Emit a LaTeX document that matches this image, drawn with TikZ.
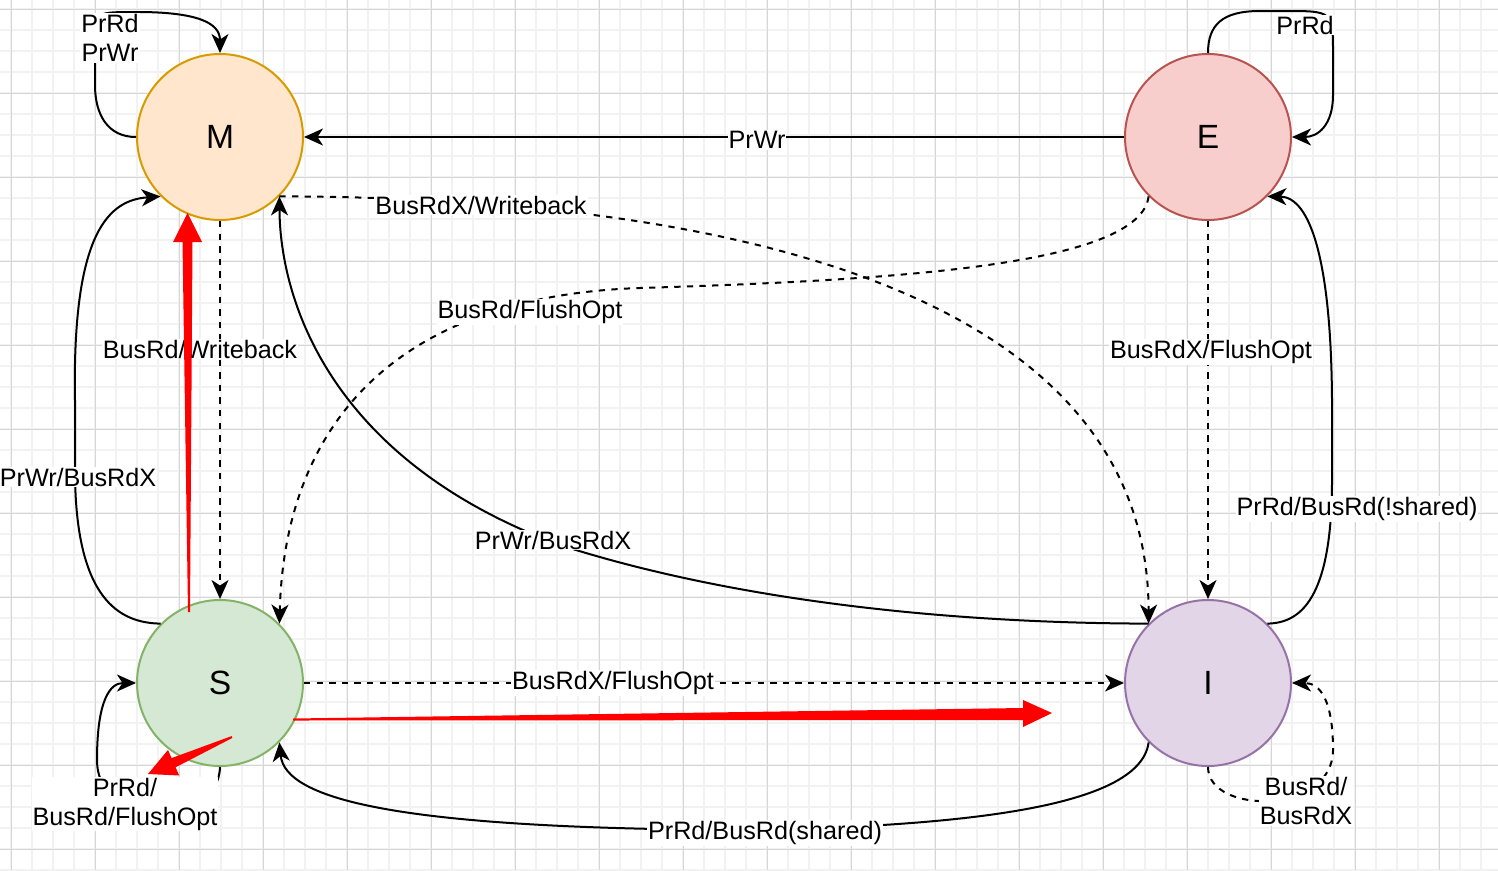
\documentclass[tikz,border=0pt]{standalone}
\usepackage{fontspec}
\setmainfont{Liberation Sans}
\usetikzlibrary{arrows.meta}
\definecolor{mFill}{HTML}{FFE6CC}
\definecolor{mDraw}{HTML}{D79B00}
\definecolor{eFill}{HTML}{F8CECC}
\definecolor{eDraw}{HTML}{B85450}
\definecolor{sFill}{HTML}{D5E8D4}
\definecolor{sDraw}{HTML}{82B366}
\definecolor{iFill}{HTML}{E1D5E7}
\definecolor{iDraw}{HTML}{9673A6}
\definecolor{gridMinor}{HTML}{F2F2F2}
\definecolor{gridMajor}{HTML}{D6D6D6}

\begin{document}
\begin{tikzpicture}
[x=1pt,y=-1pt,
  stateDecorate/.style={shape=circle,minimum size=166pt,inner sep=0pt,line width=2pt,font=\fontsize{33.6}{36}\selectfont},
  lineDecorate/.style={line width=2pt,-{Stealth[length=19pt,width=17pt,inset=5.5pt]}},
  dashDecorate/.style={lineDecorate,dash pattern=on 6.3pt off 6.3pt},
  labelDecorate/.style={fill=white,inner sep=1pt,align=center,font=\fontsize{25.2}{29}\selectfont},
  redDecorate/.style={fill=red,draw=none},
  minorDecorate/.style={draw=gridMinor,line width=1.5pt},
  majorDecorate/.style={draw=gridMajor,line width=1pt}]
\useasboundingbox (0,0) rectangle (1498,870);
%% background grid
\fill[white] (0,0) rectangle (1498,870);
\foreach \gx in {11,32,...,1498} \draw[minorDecorate] (\gx,0) -- (\gx,870);
\foreach \gy in {9,30,...,870} \draw[minorDecorate] (0,\gy) -- (1498,\gy);
\foreach \gx in {11,95,...,1498} \draw[majorDecorate] (\gx,0) -- (\gx,870);
\foreach \gy in {9,93,...,870} \draw[majorDecorate] (0,\gy) -- (1498,\gy);
%% states
\foreach \nodename/\x/\y/\fillc/\drawc in {
  M/220/137/mFill/mDraw, E/1208/137/eFill/eDraw,
  S/220/683/sFill/sDraw, I/1208/683/iFill/iDraw}
{
  \node (\nodename) at (\x,\y) [stateDecorate,fill=\fillc,draw=\drawc] {\nodename};
}
%% transitions
\draw[lineDecorate] (M.west) .. controls (108,137) and (95,115) .. (95,85) -- (95,40)
  .. controls (95,12) .. (137,12) .. controls (195,12) and (220,22) .. (M.north);
\draw[lineDecorate] (E.north) .. controls (1208,25) and (1222,11) .. (1260,11) -- (1285,11)
  .. controls (1333,11) .. (1333,55) -- (1333,95) .. controls (1333,125) and (1318,137) .. (E.east);
\draw[lineDecorate] (E.west) -- (M.east);
\draw[dashDecorate] (M.south east) .. controls (750,197) and (1148,300) .. (I.north west);
\draw[dashDecorate] (E.south west) .. controls (1140,265) and (900,280) .. (640,288)
  .. controls (400,296) and (285,420) .. (S.north east);
\draw[dashDecorate] (M.south) -- (S.north);
\draw[lineDecorate] (S.north west) .. controls (120,623) and (75,600) .. (75,470) -- (75,400)
  .. controls (72,230) and (110,200) .. (M.south west);
\draw[lineDecorate] (I.north west) .. controls (900,623) and (700,590) .. (560,545)
  .. controls (330,460) and (280,300) .. (M.south east);
\draw[dashDecorate] (E.south) -- (I.north);
\draw[lineDecorate] (I.north east) .. controls (1300,623) and (1332,600) .. (1332,480) -- (1332,420)
  .. controls (1333,260) and (1310,197) .. (E.south east);
\draw[dashDecorate] (S.east) -- (I.west);
\draw[lineDecorate] (I.south west) .. controls (1140,810) and (950,825) .. (765,830)
  .. controls (400,830) and (285,800) .. (S.south east);
\draw[lineDecorate] (S.south) .. controls (218,830) and (97,830) .. (97,760)
  .. controls (97,700) and (110,683) .. (S.west);
\draw[dashDecorate] (I.south) .. controls (1208,815) and (1333,815) .. (1333,750)
  .. controls (1333,700) and (1320,683) .. (I.east);
%% labels
\node (lblMM) at (110,38) [labelDecorate] {PrRd\\PrWr};
\node (lblEE) at (1305,25) [labelDecorate] {PrRd};
\node (lblEM) at (757,140) [labelDecorate] {PrWr};
\node (lblMI) at (481,205) [labelDecorate] {BusRdX/Writeback};
\node (lblES) at (530,312) [labelDecorate] {BusRd/FlushOpt};
\node (lblMS) at (200,349) [labelDecorate] {BusRd/Writeback};
\node (lblSM) at (78,477) [labelDecorate] {PrWr/BusRdX};
\node (lblIM) at (553,540) [labelDecorate] {PrWr/BusRdX};
\node (lblEI) at (1211,352) [labelDecorate] {BusRdX/FlushOpt};
\node (lblIE) at (1357,509) [labelDecorate] {PrRd/BusRd(!shared)};
\node (lblSI) at (613,683) [labelDecorate] {BusRdX/FlushOpt};
\node (lblIS) at (765,833) [labelDecorate] {PrRd/BusRd(shared)};
\node (lblSS) at (125,804) [labelDecorate] {PrRd/\\BusRd/FlushOpt};
\node (lblII) at (1306,801) [labelDecorate] {BusRd/\\BusRdX};
%% red marks
\fill[redDecorate] (188,612) -- (182.5,242) -- (173,242) -- (187.5,213) -- (202,242)
  -- (192.5,242) -- (190,612) -- cycle;
\fill[redDecorate] (293,718.5) -- (1023,708) -- (1023,700) -- (1052,713) -- (1023,727)
  -- (1023,720) -- (293,720.5) -- cycle;
\fill[redDecorate] (231.6,736.1) -- (171.6,758.1) -- (168,749.9) -- (148,774) -- (179.2,775.5)
  -- (175.6,767.3) -- (232.4,737.9) -- cycle;
\end{tikzpicture}
\end{document}
